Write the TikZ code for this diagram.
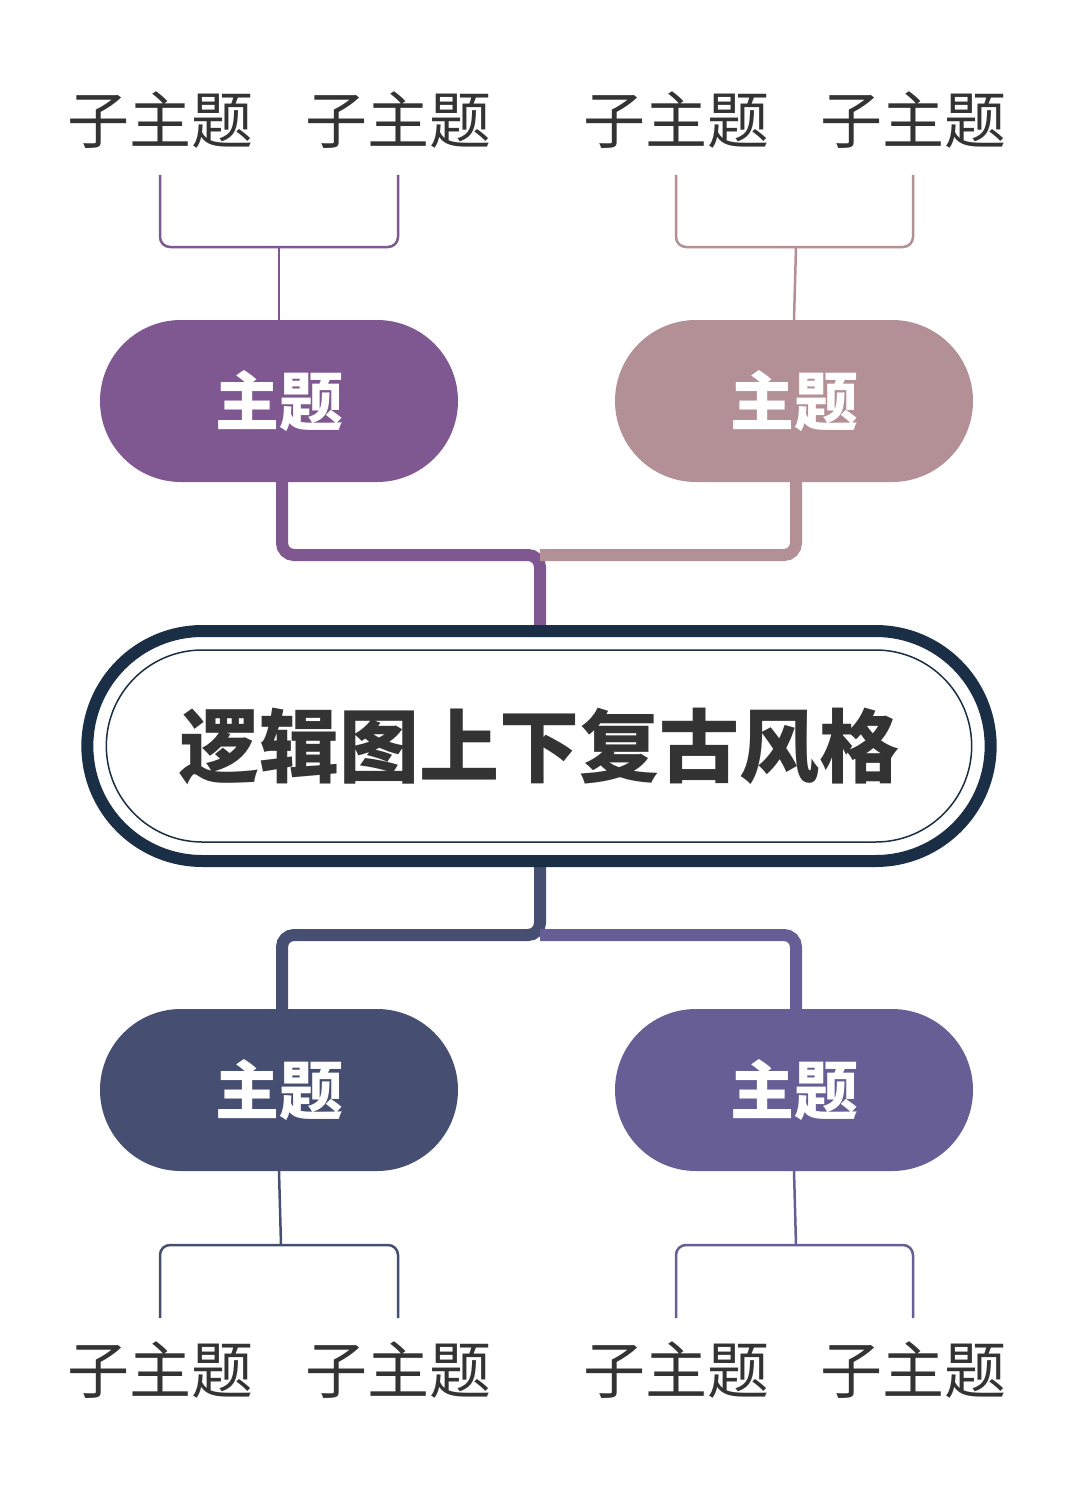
\documentclass[tikz,border=0pt]{standalone}
\usepackage{fontspec}
\setmainfont{Noto Sans CJK SC}
\newfontfamily\cjkb[BoldFont={* Bold}]{Noto Sans CJK SC}
\definecolor{navy}{HTML}{1A2E45}
\definecolor{cA}{HTML}{7F5891}
\definecolor{cB}{HTML}{B38F96}
\definecolor{cC}{HTML}{464F72}
\definecolor{cD}{HTML}{675E96}
\definecolor{txt}{HTML}{333333}
\begin{document}
\begin{tikzpicture}[x=1pt,y=-1pt,
 main/.style={rounded rectangle, minimum width=358pt, minimum height=162pt, text=white, font=\fontsize{64}{70}\selectfont\bfseries, inner sep=0pt},
 sub/.style={text=txt, font=\fontsize{62}{66}\selectfont, inner sep=0pt},
 thick line/.style={line width=12pt, rounded corners=12pt},
 thin line/.style={line width=2.5pt, rounded corners=10pt}]
\useasboundingbox (0,0) rectangle (1075,1490);
\usetikzlibrary{shapes.misc}
% connectors
\coordinate (ct) at (540,625);
\coordinate (cb) at (540,867);
\draw[thick line, cA] (282,482) -- (282,555) -- (540,555) -- (ct);
\draw[thick line, cB] (796,482) -- (796,555) -- (540,555);
\draw[thick line, cC] (cb) -- (540,935) -- (282,935) -- (282,1010);
\draw[thick line, cD] (540,935) -- (796,935) -- (796,1010);
% main nodes
\node[main, fill=cA] (m1) at (279,401) {主题};
\node[main, fill=cB] (m2) at (794,401) {主题};
\node[main, fill=cC] (m3) at (279,1090) {主题};
\node[main, fill=cD] (m4) at (794,1090) {主题};
% center
\node[rounded rectangle, draw=navy, line width=12pt, fill=white, minimum width=910pt, minimum height=230pt] (c) at (539,746) {};
\node[rounded rectangle, draw=navy, line width=1.5pt, minimum width=872pt, minimum height=192pt, text=txt, font=\fontsize{80}{86}\selectfont\bfseries] (ci) at (539,746) {逻辑图上下复古风格};
% subtopics
\node[sub] (s1) at (160,120) {子主题};
\node[sub] (s2) at (398,120) {子主题};
\node[sub] (s3) at (676,120) {子主题};
\node[sub] (s4) at (913,120) {子主题};
\node[sub] (s5) at (160,1370) {子主题};
\node[sub] (s6) at (398,1370) {子主题};
\node[sub] (s7) at (676,1370) {子主题};
\node[sub] (s8) at (913,1370) {子主题};
\draw[thin line, cA] (s1.south |- 0,175) -- (160,247) -- (398,247) -- (398,175);
\draw[thin line, cA] (m1.north) -- (279,247);
\draw[thin line, cB] (676,175) -- (676,247) -- (913,247) -- (913,175);
\draw[thin line, cB] (m2.north) -- (796,247);
\draw[thin line, cC] (160,1318) -- (160,1245) -- (398,1245) -- (398,1318);
\draw[thin line, cC] (m3.south) -- (281,1245);
\draw[thin line, cD] (676,1318) -- (676,1245) -- (913,1245) -- (913,1318);
\draw[thin line, cD] (m4.south) -- (796,1245);
\end{tikzpicture}
\end{document}
